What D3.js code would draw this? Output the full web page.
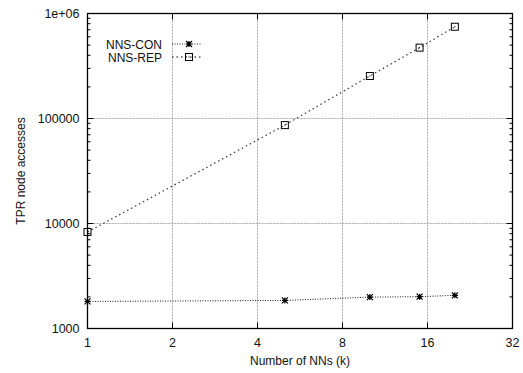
<!DOCTYPE html>
<html>
<head>
<meta charset="utf-8">
<script src="https://cdn.jsdelivr.net/npm/d3@7"></script>
<style>
body { margin: 0; background: #fff; }
svg text { font-family: "Liberation Sans", Arial, sans-serif; font-size: 12px; fill: #111; }
svg text.tick { font-size: 12.5px; }
</style>
</head>
<body>
<div id="chart"></div>
<script>
var kValues = [1, 5, 10, 15, 20],
conValues = [1810, 1850, 1990, 2010, 2070],
repValues = [8300, 86500, 254000, 473000, 748000],
xTicks = [1, 2, 4, 8, 16, 32],
yTicks = [1000, 10000, 100000, 1000000],
yTickLabels = ["1000", "10000", "100000", "1e+06"];

var width = 523, height = 373,
margin = { top: 13.5, right: 10.5, bottom: 44.5, left: 87.5 };

var svg = d3.select("#chart").append("svg")
	.attr("width", width)
	.attr("height", height);

var x = d3.scaleLog().base(2)
	.domain([1, 32])
	.range([margin.left, width - margin.right]);

var y = d3.scaleLog()
	.domain([1000, 1000000])
	.range([height - margin.bottom, margin.top]);

// minor tick values for y (2..9 of each decade)
var yMinor = [];
[1000, 10000, 100000].forEach(function(d) {
	for (var i = 2; i < 10; i++) yMinor.push(d * i);
});

// grid
var grid = svg.append("g").attr("stroke", "#aaa").attr("stroke-dasharray", "2,1").attr("stroke-width", 1);
xTicks.slice(1, -1).forEach(function(t) {
	grid.append("line").attr("x1", x(t)).attr("x2", x(t)).attr("y1", y(1000)).attr("y2", y(1000000));
});
yTicks.slice(1, -1).forEach(function(t) {
	grid.append("line").attr("x1", x(1)).attr("x2", x(32)).attr("y1", y(t)).attr("y2", y(t));
});

// ticks (inward, mirrored)
var ticks = svg.append("g").attr("stroke", "#000").attr("stroke-width", 1);
xTicks.forEach(function(t) {
	ticks.append("line").attr("x1", x(t)).attr("x2", x(t)).attr("y1", y(1000)).attr("y2", y(1000) - 6);
	ticks.append("line").attr("x1", x(t)).attr("x2", x(t)).attr("y1", y(1000000)).attr("y2", y(1000000) + 6);
});
yTicks.forEach(function(t) {
	ticks.append("line").attr("x1", x(1)).attr("x2", x(1) + 6).attr("y1", y(t)).attr("y2", y(t));
	ticks.append("line").attr("x1", x(32)).attr("x2", x(32) - 6).attr("y1", y(t)).attr("y2", y(t));
});
yMinor.forEach(function(t) {
	ticks.append("line").attr("x1", x(1)).attr("x2", x(1) + 3).attr("y1", y(t)).attr("y2", y(t));
	ticks.append("line").attr("x1", x(32)).attr("x2", x(32) - 3).attr("y1", y(t)).attr("y2", y(t));
});

// frame
svg.append("rect")
	.attr("x", x(1)).attr("y", y(1000000))
	.attr("width", x(32) - x(1)).attr("height", y(1000) - y(1000000))
	.attr("fill", "none").attr("stroke", "#000").attr("stroke-width", 1.3);

// tick labels
svg.append("g").selectAll("text")
	.data(xTicks)
	.enter().append("text")
	.attr("class", "tick")
	.attr("x", d => x(d))
	.attr("y", y(1000) + 18)
	.attr("text-anchor", "middle")
	.text(d => d);

svg.append("g").selectAll("text")
	.data(yTicks)
	.enter().append("text")
	.attr("class", "tick")
	.attr("x", x(1) - 8)
	.attr("y", d => y(d) + 4.5)
	.attr("text-anchor", "end")
	.text((d, i) => yTickLabels[i]);

// axis titles
svg.append("text")
	.attr("x", (x(1) + x(32)) / 2)
	.attr("y", height - 8)
	.attr("text-anchor", "middle")
	.text("Number of NNs (k)");

svg.append("text")
	.attr("transform", "translate(25," + ((y(1000) + y(1000000)) / 2) + ") rotate(-90)")
	.attr("text-anchor", "middle")
	.text("TPR node accesses");

// series
var line = d3.line().x(d => x(d[0])).y(d => y(d[1]));
var conData = kValues.map((k, i) => [k, conValues[i]]);
var repData = kValues.map((k, i) => [k, repValues[i]]);

svg.append("path")
	.datum(conData)
	.attr("d", line)
	.attr("fill", "none")
	.attr("stroke", "#000")
	.attr("stroke-width", 0.9)
	.attr("stroke-dasharray", "1,1.5");

svg.append("path")
	.datum(repData)
	.attr("d", line)
	.attr("fill", "none")
	.attr("stroke", "#333")
	.attr("stroke-width", 1.2)
	.attr("stroke-dasharray", "1.5,3");

function star(g, cx, cy) {
	var s = 3;
	g.append("path")
		.attr("d", "M" + (cx - s) + "," + cy + "H" + (cx + s) +
			"M" + cx + "," + (cy - s) + "V" + (cy + s) +
			"M" + (cx - s) + "," + (cy - s) + "L" + (cx + s) + "," + (cy + s) +
			"M" + (cx - s) + "," + (cy + s) + "L" + (cx + s) + "," + (cy - s))
		.attr("stroke", "#000").attr("stroke-width", 1.2).attr("fill", "none");
}
function square(g, cx, cy) {
	g.append("rect")
		.attr("x", cx - 3.5).attr("y", cy - 3.5)
		.attr("width", 7).attr("height", 7)
		.attr("fill", "none").attr("stroke", "#000").attr("stroke-width", 1);
	g.append("rect")
		.attr("x", cx - 0.5).attr("y", cy - 0.5)
		.attr("width", 1).attr("height", 1)
		.attr("fill", "#000");
}

var marks = svg.append("g");
conData.forEach(d => star(marks, x(d[0]), y(d[1])));
repData.forEach(d => square(marks, x(d[0]), y(d[1])));

// legend
var legend = svg.append("g");
var legendRows = [
	{ name: "NNS-CON", y: 44, dash: "1,1.5", w: 0.9, mark: star },
	{ name: "NNS-REP", y: 57, dash: "1.5,3", w: 1.2, mark: square }
];
legendRows.forEach(function(r) {
	legend.append("text")
		.attr("x", 162).attr("y", r.y + 4.5)
		.attr("text-anchor", "end")
		.text(r.name);
	legend.append("line")
		.attr("x1", 172).attr("x2", 201)
		.attr("y1", r.y).attr("y2", r.y)
		.attr("stroke", "#000").attr("stroke-width", r.w).attr("stroke-dasharray", r.dash);
	r.mark(legend, 189, r.y);
});
</script>
</body>
</html>
